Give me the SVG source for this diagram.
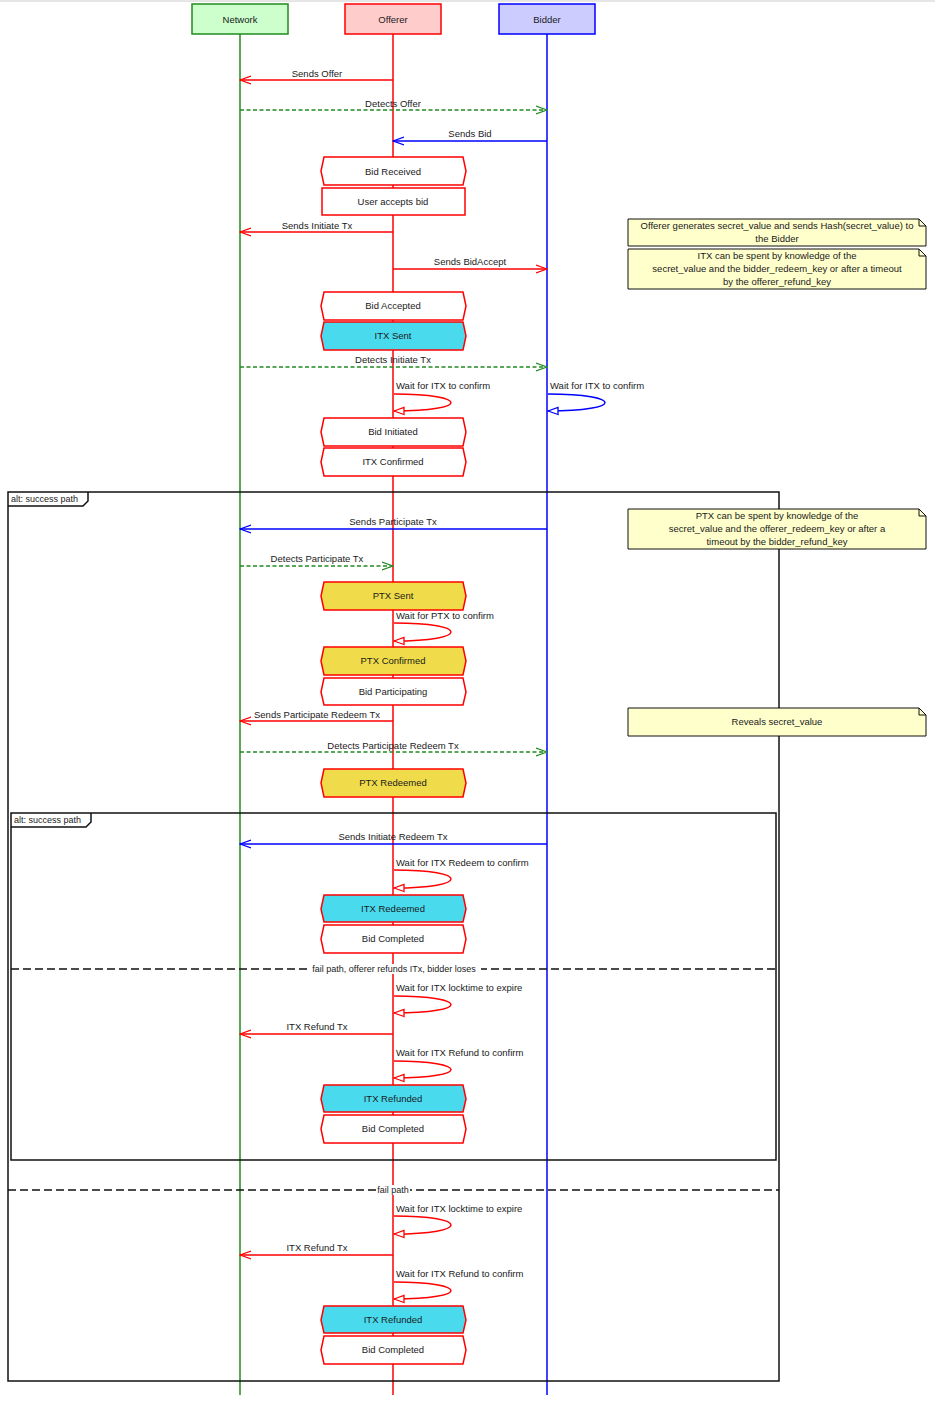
<svg xmlns="http://www.w3.org/2000/svg" width="935" height="1405" viewBox="0 0 935 1405">
<defs>
<style>
text{font-family:"Liberation Sans",Arial,sans-serif;font-size:9.5px;fill:#1a1a1a}
.c{text-anchor:middle}
.hn{stroke:#ff0000;stroke-width:1.5}
.w{fill:#ffffff}.cy{fill:#4adaee}.ye{fill:#f0dc4a}
.note{fill:#ffffcc;stroke:#111;stroke-width:1}
.frame{fill:none;stroke:#111;stroke-width:1.5}
.sep{stroke:#111;stroke-width:1.5;stroke-dasharray:8,4}
.r{stroke:#ff0000;fill:none;stroke-width:1.5}
.b{stroke:#0000ff;fill:none;stroke-width:1.5}
.g{stroke:#228b22;fill:none;stroke-width:1.5;stroke-dasharray:4,2.5}
</style>
<marker id="ar" viewBox="0 0 12 10" refX="11" refY="5" markerWidth="12" markerHeight="10" markerUnits="userSpaceOnUse" orient="auto"><path d="M0,1 L11,5 L0,9" fill="none" stroke="#ff0000" stroke-width="1.3"/></marker>
<marker id="ab" viewBox="0 0 12 10" refX="11" refY="5" markerWidth="12" markerHeight="10" markerUnits="userSpaceOnUse" orient="auto"><path d="M0,1 L11,5 L0,9" fill="none" stroke="#0000ff" stroke-width="1.3"/></marker>
<marker id="ag" viewBox="0 0 12 10" refX="11" refY="5" markerWidth="12" markerHeight="10" markerUnits="userSpaceOnUse" orient="auto"><path d="M0,1 L11,5 L0,9" fill="none" stroke="#228b22" stroke-width="1.3"/></marker>
<marker id="tr" viewBox="0 0 12 10" refX="11" refY="5" markerWidth="12" markerHeight="10" markerUnits="userSpaceOnUse" orient="auto"><path d="M1,1.5 L11,5 L1,8.5 Z" fill="#ffffff" stroke="#ff0000" stroke-width="1.3"/></marker>
<marker id="tb" viewBox="0 0 12 10" refX="11" refY="5" markerWidth="12" markerHeight="10" markerUnits="userSpaceOnUse" orient="auto"><path d="M1,1.5 L11,5 L1,8.5 Z" fill="#ffffff" stroke="#0000ff" stroke-width="1.3"/></marker>
</defs>
<rect width="935" height="1405" fill="#ffffff"/>
<line x1="0" y1="1" x2="935" y2="1" stroke="#cccccc" stroke-width="1"/>

<g id="lifelines">
<line x1="240" y1="34" x2="240" y2="1395" stroke="#228b22" stroke-width="1.5"/>
<line x1="393" y1="34" x2="393" y2="1395" stroke="#ff0000" stroke-width="1.5"/>
<line x1="547" y1="34" x2="547" y2="1395" stroke="#0000ff" stroke-width="1.5"/>
</g>

<g id="frames">
<rect class="frame" x="8" y="492" width="771" height="889"/>
<path class="frame" d="M8,506 L83,506 L88,501 L88,492" fill="#fff"/>
<text x="11" y="502" style="font-size:9px">alt: success path</text>
<line class="sep" x1="8" y1="1190" x2="779" y2="1190"/>
<rect x="377" y="1185" width="33" height="10" fill="#fff"/>
<text class="c" x="393" y="1193" style="font-size:9px">fail path</text>
<rect class="frame" x="11" y="813" width="765" height="347"/>
<path class="frame" d="M11,827 L86,827 L91,822 L91,813" fill="#fff"/>
<text x="14" y="823" style="font-size:9px">alt: success path</text>
<line class="sep" x1="11" y1="969" x2="776" y2="969"/>
<rect x="307" y="964" width="174" height="10" fill="#fff"/>
<text class="c" x="394" y="972" style="font-size:9px">fail path, offerer refunds ITx, bidder loses</text>
</g>

<g id="network"><rect x="192" y="4" width="96" height="30" fill="#ccffcc" stroke="#228b22" stroke-width="1.5"/><text class="c" x="240" y="23">Network</text></g>
<g id="offerer"><rect x="345" y="4" width="96" height="30" fill="#ffcccc" stroke="#ff0000" stroke-width="1.5"/><text class="c" x="393" y="23">Offerer</text></g>
<g id="bidder"><rect x="499" y="4" width="96" height="30" fill="#ccccff" stroke="#0000ff" stroke-width="1.5"/><text class="c" x="547" y="23">Bidder</text></g>

<g id="connectors">
<line class="r" x1="393" y1="80" x2="240" y2="80" marker-end="url(#ar)"/><text class="c" x="317" y="77">Sends Offer</text>
<line class="g" x1="240" y1="110" x2="547" y2="110" marker-end="url(#ag)"/><text class="c" x="393" y="107">Detects Offer</text>
<line class="b" x1="547" y1="141" x2="393" y2="141" marker-end="url(#ab)"/><text class="c" x="470" y="137">Sends Bid</text>
<line class="r" x1="393" y1="232" x2="240" y2="232" marker-end="url(#ar)"/><text class="c" x="317" y="229">Sends Initiate Tx</text>
<line class="r" x1="393" y1="269" x2="547" y2="269" marker-end="url(#ar)"/><text class="c" x="470" y="265">Sends BidAccept</text>
<line class="g" x1="240" y1="367" x2="547" y2="367" marker-end="url(#ag)"/><text class="c" x="393" y="363">Detects Initiate Tx</text>
<path class="r" d="M394,394 C470,394 470,411 394,411" marker-end="url(#tr)"/><text x="396" y="389">Wait for ITX to confirm</text>
<path class="b" d="M548,394 C624,394 624,411 548,411" marker-end="url(#tb)"/><text x="550" y="389">Wait for ITX to confirm</text>
<line class="b" x1="547" y1="529" x2="240" y2="529" marker-end="url(#ab)"/><text class="c" x="393" y="525">Sends Participate Tx</text>
<line class="g" x1="240" y1="566" x2="393" y2="566" marker-end="url(#ag)"/><text class="c" x="317" y="562">Detects Participate Tx</text>
<path class="r" d="M394,623 C470,623 470,641 394,641" marker-end="url(#tr)"/><text x="396" y="619">Wait for PTX to confirm</text>
<line class="r" x1="393" y1="721" x2="240" y2="721" marker-end="url(#ar)"/><text class="c" x="317" y="718">Sends Participate Redeem Tx</text>
<line class="g" x1="240" y1="752" x2="547" y2="752" marker-end="url(#ag)"/><text class="c" x="393" y="749">Detects Participate Redeem Tx</text>
<line class="b" x1="547" y1="844" x2="240" y2="844" marker-end="url(#ab)"/><text class="c" x="393" y="840">Sends Initiate Redeem Tx</text>
<path class="r" d="M394,870 C470,870 470,888 394,888" marker-end="url(#tr)"/><text x="396" y="866">Wait for ITX Redeem to confirm</text>
<path class="r" d="M394,996 C470,996 470,1013 394,1013" marker-end="url(#tr)"/><text x="396" y="991">Wait for ITX locktime to expire</text>
<line class="r" x1="393" y1="1034" x2="240" y2="1034" marker-end="url(#ar)"/><text class="c" x="317" y="1030">ITX Refund Tx</text>
<path class="r" d="M394,1061 C470,1061 470,1078 394,1078" marker-end="url(#tr)"/><text x="396" y="1056">Wait for ITX Refund to confirm</text>
<path class="r" d="M394,1216 C470,1216 470,1234 394,1234" marker-end="url(#tr)"/><text x="396" y="1212">Wait for ITX locktime to expire</text>
<line class="r" x1="393" y1="1255" x2="240" y2="1255" marker-end="url(#ar)"/><text class="c" x="317" y="1251">ITX Refund Tx</text>
<path class="r" d="M394,1282 C470,1282 470,1299 394,1299" marker-end="url(#tr)"/><text x="396" y="1277">Wait for ITX Refund to confirm</text>
</g>

<g id="s1"><path class="hn w" d="M324,157 L463,157 L466,171 L463,185 L324,185 L321,171 Z"/><text class="c" x="393" y="175">Bid Received</text></g>
<g id="s2"><rect class="hn w" x="322" y="188" width="143" height="27"/><text class="c" x="393" y="205">User accepts bid</text></g>
<g id="s3"><path class="hn w" d="M324,292 L463,292 L466,306 L463,320 L324,320 L321,306 Z"/><text class="c" x="393" y="309">Bid Accepted</text></g>
<g id="s4"><path class="hn cy" d="M324,322 L463,322 L466,336 L463,350 L324,350 L321,336 Z"/><text class="c" x="393" y="339">ITX Sent</text></g>
<g id="s5"><path class="hn w" d="M324,418 L463,418 L466,432 L463,446 L324,446 L321,432 Z"/><text class="c" x="393" y="435">Bid Initiated</text></g>
<g id="s6"><path class="hn w" d="M324,448 L463,448 L466,462 L463,476 L324,476 L321,462 Z"/><text class="c" x="393" y="465">ITX Confirmed</text></g>
<g id="s7"><path class="hn ye" d="M324,582 L463,582 L466,596 L463,610 L324,610 L321,596 Z"/><text class="c" x="393" y="599">PTX Sent</text></g>
<g id="s8"><path class="hn ye" d="M324,647 L463,647 L466,661 L463,675 L324,675 L321,661 Z"/><text class="c" x="393" y="664">PTX Confirmed</text></g>
<g id="s9"><path class="hn w" d="M324,678 L463,678 L466,692 L463,705 L324,705 L321,692 Z"/><text class="c" x="393" y="695">Bid Participating</text></g>
<g id="s10"><path class="hn ye" d="M324,769 L463,769 L466,783 L463,797 L324,797 L321,783 Z"/><text class="c" x="393" y="786">PTX Redeemed</text></g>
<g id="s11"><path class="hn cy" d="M324,895 L463,895 L466,909 L463,922 L324,922 L321,909 Z"/><text class="c" x="393" y="912">ITX Redeemed</text></g>
<g id="s12"><path class="hn w" d="M324,925 L463,925 L466,939 L463,953 L324,953 L321,939 Z"/><text class="c" x="393" y="942">Bid Completed</text></g>
<g id="s13"><path class="hn cy" d="M324,1085 L463,1085 L466,1099 L463,1112 L324,1112 L321,1099 Z"/><text class="c" x="393" y="1102">ITX Refunded</text></g>
<g id="s14"><path class="hn w" d="M324,1115 L463,1115 L466,1129 L463,1143 L324,1143 L321,1129 Z"/><text class="c" x="393" y="1132">Bid Completed</text></g>
<g id="s15"><path class="hn cy" d="M324,1306 L463,1306 L466,1320 L463,1333 L324,1333 L321,1320 Z"/><text class="c" x="393" y="1323">ITX Refunded</text></g>
<g id="s16"><path class="hn w" d="M324,1336 L463,1336 L466,1350 L463,1364 L324,1364 L321,1350 Z"/><text class="c" x="393" y="1353">Bid Completed</text></g>

<g id="note1"><path class="note" d="M628,219 L919,219 L926,226 L926,246 L628,246 Z"/><path d="M919,219 L919,226 L926,226" fill="none" stroke="#111"/><text class="c" x="777" y="229">Offerer generates secret_value and sends Hash(secret_value) to</text><text class="c" x="777" y="242">the Bidder</text></g>
<g id="note2"><path class="note" d="M628,249 L919,249 L926,256 L926,289 L628,289 Z"/><path d="M919,249 L919,256 L926,256" fill="none" stroke="#111"/><text class="c" x="777" y="259">ITX can be spent by knowledge of the</text><text class="c" x="777" y="272">secret_value and the bidder_redeem_key or after a timeout</text><text class="c" x="777" y="285">by the offerer_refund_key</text></g>
<g id="note3"><path class="note" d="M628,509 L919,509 L926,516 L926,549 L628,549 Z"/><path d="M919,509 L919,516 L926,516" fill="none" stroke="#111"/><text class="c" x="777" y="519">PTX can be spent by knowledge of the</text><text class="c" x="777" y="532">secret_value and the offerer_redeem_key or after a</text><text class="c" x="777" y="545">timeout by the bidder_refund_key</text></g>
<g id="note4"><path class="note" d="M628,708 L919,708 L926,715 L926,736 L628,736 Z"/><path d="M919,708 L919,715 L926,715" fill="none" stroke="#111"/><text class="c" x="777" y="725">Reveals secret_value</text></g>
</svg>
